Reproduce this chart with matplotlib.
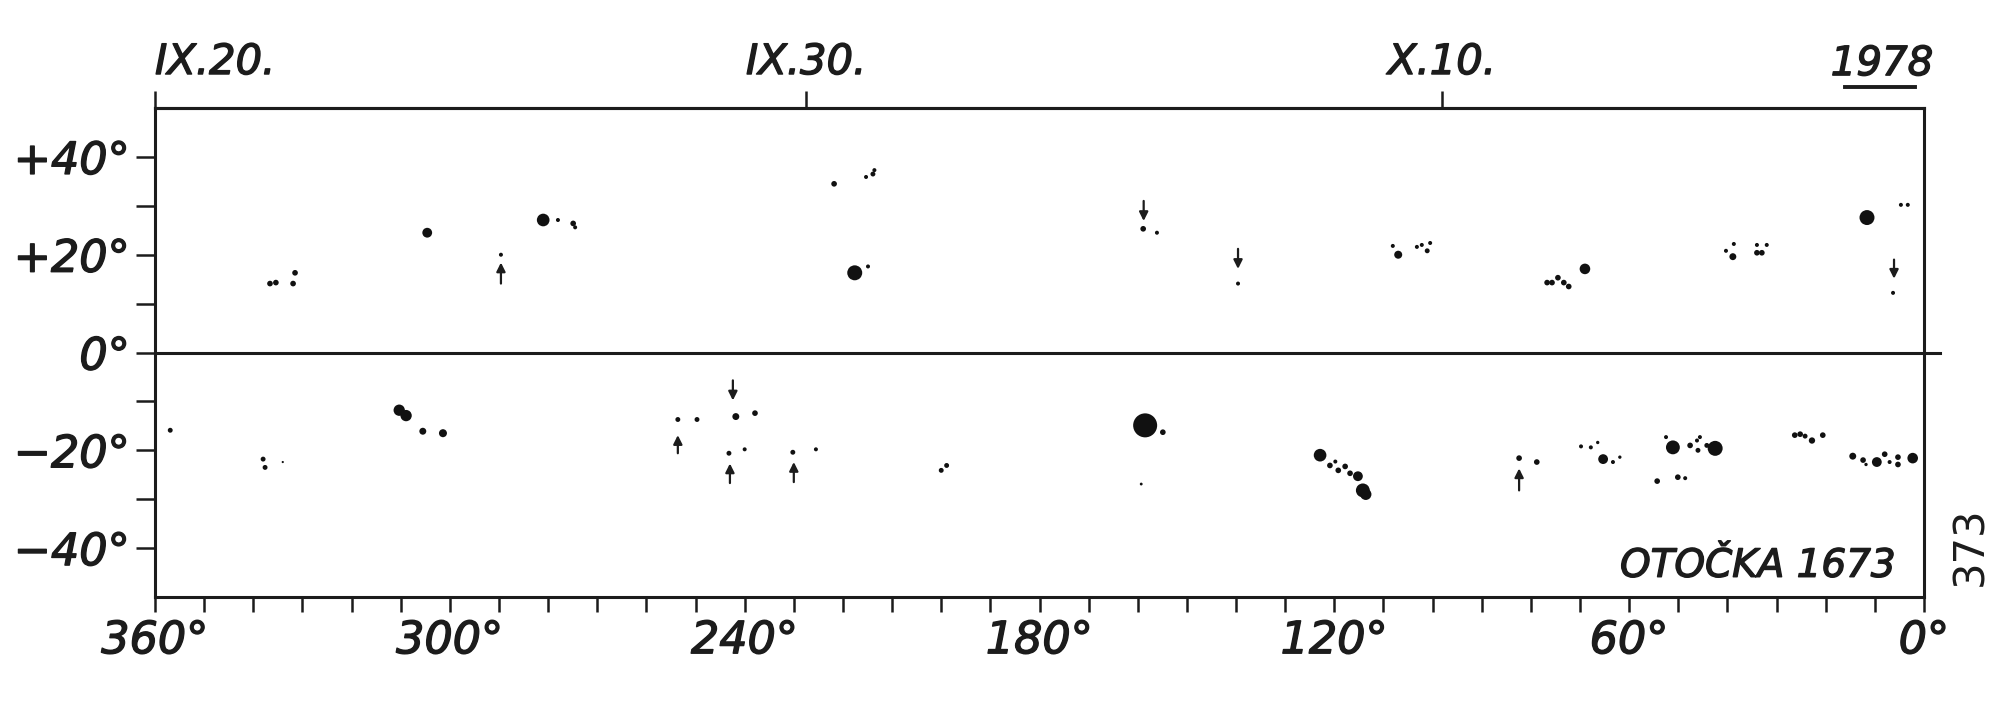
import numpy as np
import matplotlib.pyplot as plt
import matplotlib.patheffects as pe
from matplotlib import font_manager
from matplotlib.lines import Line2D

### FONT - hand lettering is narrow, take a condensed face if there is one
installed = {f.name for f in font_manager.fontManager.ttflist}
hand = 'DejaVu Sans'
for name in ['DejaVu Sans Condensed', 'Liberation Sans Narrow']:
    if name in installed:
        hand = name
        break
plt.rcParams['font.family'] = [hand, 'DejaVu Sans']
plt.rcParams['font.style'] = 'oblique'

ink = '#1c1c1c'
pen = [pe.withStroke(linewidth=1.0, foreground=ink)]  # a bit thicker, pen-like strokes

### DATA  (Carrington longitude, latitude, spot area in small units)
# northern hemisphere
north_lon = [336.6, 335.4, 331.5, 331.9, 304.6, 289.6, 281.0, 278.0, 274.9, 274.5,
             221.8, 215.3, 213.9, 213.6, 217.6, 214.9, 158.9, 156.1, 139.6,
             108.1, 107.0, 103.2, 102.2, 100.5, 101.1,
             76.7, 75.7, 74.5, 73.3, 72.3, 69.0,
             40.3, 38.9, 38.7, 34.0, 33.0, 34.0, 32.0,
             11.6, 4.7, 3.3, 6.3]
north_lat = [14.1, 14.3, 16.3, 14.1, 24.5, 20.0, 27.1, 27.1, 26.4, 25.6,
             34.5, 35.9, 36.5, 37.3, 16.3, 17.6, 25.3, 24.5, 14.1,
             21.8, 20.0, 21.6, 22.0, 22.4, 20.8,
             14.3, 14.3, 15.3, 14.3, 13.5, 17.1,
             20.8, 19.6, 22.2, 20.4, 20.4, 22.0, 22.0,
             27.6, 30.2, 30.2, 12.2]
north_area = [2, 2, 2, 2, 6, 1, 10, 1, 2, 1,
              2, 1, 1.5, 1, 14, 1, 2, 1, 1,
              1, 4, 1, 1, 1, 1.5,
              2, 2, 2, 2, 2, 7,
              1, 3, 1, 2, 2, 1, 1,
              14, 1, 1, 1]

# southern hemisphere
south_lon = [356.9, 338.0, 337.6, 334.0, 310.3, 308.9, 305.5, 301.4,
             253.6, 249.7, 241.8, 237.9, 243.2, 240.0, 230.2, 225.5,
             200.0, 198.9, 158.5, 154.9, 159.3,
             122.9, 120.9, 119.2, 117.8, 116.8, 119.8, 115.2, 114.2, 113.6,
             82.4, 78.8, 69.8, 67.8, 66.4, 65.3, 63.3, 61.9,
             52.5, 51.1, 47.6, 46.2, 45.6, 46.0, 44.2, 42.5, 54.3, 50.1, 48.6,
             26.3, 25.2, 24.2, 22.8, 20.6,
             14.5, 12.4, 11.8, 9.6, 8.0, 7.0, 5.3, 5.3, 2.3]
south_lat = [-15.9, -21.8, -23.5, -22.4, -11.8, -12.9, -16.1, -16.5,
             -13.7, -13.7, -13.1, -12.4, -20.6, -19.8, -20.4, -19.8,
             -24.1, -23.1, -14.9, -16.3, -26.9,
             -21.0, -23.1, -24.1, -23.3, -24.7, -22.3, -25.3, -28.2, -29.0,
             -21.6, -22.4, -19.2, -19.4, -18.4, -21.8, -22.4, -21.4,
             -17.3, -19.4, -19.0, -18.0, -17.3, -20.0, -19.0, -19.6, -26.3, -25.5, -25.7,
             -16.9, -16.7, -17.1, -18.0, -16.9,
             -21.2, -22.0, -22.9, -22.4, -20.8, -22.4, -21.4, -22.9, -21.6]
south_area = [1.5, 1.5, 1.5, 0.3, 8, 8, 3, 4,
              1.5, 1.5, 3, 2, 1.5, 1, 1.5, 1,
              1.5, 1.5, 36, 2, 0.5,
              10, 2, 2, 2, 2, 1, 6, 12, 8,
              2, 2, 1, 1, 0.7, 6, 1, 0.7,
              1, 12, 2, 1, 1, 1.5, 1.5, 14, 2, 2, 1,
              2, 2, 1.5, 2.5, 2,
              3, 2, 0.7, 6, 2, 1, 2, 2, 7]

# arrows: longitude, latitude of tail, latitude of head
arrow_lon = [289.6, 158.8, 139.6, 6.1, 253.6, 242.4, 243.0, 230.0, 82.4]
arrow_from = [14.1, 31.0, 21.2, 19.0, -20.6, -5.7, -26.7, -26.5, -28.2]
arrow_to = [18.4, 26.9, 17.1, 15.1, -16.9, -9.8, -22.7, -22.4, -23.7]

# axes
lon_ticks = [360, 300, 240, 180, 120, 60, 0]
lon_labels = ['360°', '300°', '240°', '180°', '120°', '60°', '0°']
lat_ticks = [40, 20, 0, -20, -40]
lat_labels = ['+40°', '+20°', '0°', '−20°', '−40°']
date_lon = [360, 227.5, 98.1]
date_labels = ['IX.20.', 'IX.30.', 'X.10.']
year = '1978'
rotation_text = 'OTOČKA 1673'
page_no = '373'

### PLOT
fig = plt.figure(figsize=(20, 7.07), dpi=100)
ax = fig.add_axes([0.0775, 0.1556, 0.8845, 0.6916])
ax.set_xlim(360, 0)
ax.set_ylim(-50, 50)

for sp in ax.spines.values():
    sp.set_linewidth(2.2)
    sp.set_color(ink)
ax.axhline(0, xmin=0, xmax=1.009, color=ink, lw=2.2, clip_on=False)

# spots
ax.scatter(north_lon, north_lat, s=np.asarray(north_area) * 8.3, c='#111111',
           linewidths=0, zorder=3)
ax.scatter(south_lon, south_lat, s=np.asarray(south_area) * 8.3, c='#111111',
           linewidths=0, zorder=3)

# arrows
for lon, a, b in zip(arrow_lon, arrow_from, arrow_to):
    ax.annotate('', xy=(lon, b), xytext=(lon, a),
                arrowprops=dict(arrowstyle='-|>', color=ink, lw=1.6,
                                mutation_scale=13, shrinkA=0, shrinkB=0))

# longitude axis
ax.set_xticks(lon_ticks, labels=lon_labels)
ax.set_xticks(np.arange(0, 361, 10), minor=True)
ax.tick_params(axis='x', which='both', direction='out', length=11, width=1.8,
               color=ink, labelsize=32, pad=5, labelcolor=ink)

# latitude axis
ax.set_yticks(lat_ticks, labels=lat_labels)
ax.set_yticks(np.arange(-40, 41, 10), minor=True)
ax.tick_params(axis='y', which='both', direction='out', length=14, width=1.8,
               color=ink, labelsize=32, pad=4, labelcolor=ink)

# dates on top
secax = ax.secondary_xaxis('top')
secax.set_xticks(date_lon, labels=date_labels)
secax.tick_params(direction='out', length=12, width=1.8, color=ink,
                  labelsize=30, pad=6, labelcolor=ink)
secax.spines['top'].set_linewidth(2.2)
secax.spines['top'].set_color(ink)
secax.get_xticklabels()[0].set_horizontalalignment('left')

texts = ax.get_xticklabels() + ax.get_yticklabels() + secax.get_xticklabels()

texts.append(fig.text(0.941, 0.91, year, ha='center', va='center', fontsize=29,
                      color=ink))
fig.add_artist(Line2D([0.9225, 0.9575], [0.877, 0.877], transform=fig.transFigure,
                      lw=2.8, color=ink))

texts.append(ax.text(0.984, 0.025, rotation_text, transform=ax.transAxes,
                     ha='right', va='bottom', fontsize=28, color=ink))
fig.text(0.985, 0.228, page_no, rotation=90, ha='center', va='center',
         fontsize=30, style='normal', color=ink)

for t in texts:
    t.set_path_effects(pen)

plt.savefig('out.png', dpi=100, facecolor='white')
